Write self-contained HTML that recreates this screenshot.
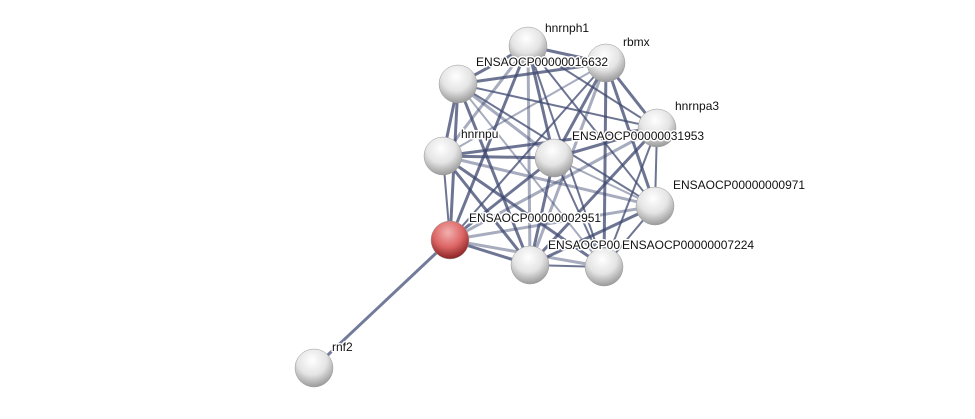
<!DOCTYPE html><html><head><style>body{margin:0;background:#fff}svg text{font-family:"Liberation Sans",sans-serif;font-size:12px;fill:#111;paint-order:stroke;stroke:#fff;stroke-width:3px;stroke-linejoin:round}</style></head><body>
<svg width="975" height="414" xmlns="http://www.w3.org/2000/svg">
<defs>
<radialGradient id="g" cx="45%" cy="30%" r="70%"><stop offset="0" stop-color="#fff"/><stop offset="0.55" stop-color="#e4e4e4"/><stop offset="1" stop-color="#9a9a9a"/></radialGradient>
<radialGradient id="r" cx="45%" cy="30%" r="70%"><stop offset="0" stop-color="#f3b0b0"/><stop offset="0.55" stop-color="#d66"/><stop offset="1" stop-color="#8a2222"/></radialGradient>
</defs>
<g id="e" stroke="#3d4870" stroke-linecap="round"></g>
<line x1="450" y1="240" x2="314" y2="368" stroke="#5a6488" stroke-width="3" opacity="0.85"/>
<g id="n"></g>
<text x="545" y="32">hnrnph1</text>
<text x="623" y="46">rbmx</text>
<text x="476" y="66">ENSAOCP00000016632</text>
<text x="675" y="110">hnrnpa3</text>
<text x="461" y="138">hnrnpu</text>
<text x="572" y="140">ENSAOCP00000031953</text>
<text x="673" y="189">ENSAOCP00000000971</text>
<text x="469" y="222">ENSAOCP00000002951</text>
<text x="548" y="249">ENSAOCP00</text>
<text x="622" y="249">ENSAOCP00000007224</text>
<text x="332" y="351">rnf2</text>
</svg>
<script>
var P=[[528,46],[606,63],[458,84],[657,128],[443,156],[554,158],[655,206],[450,240],[530,265],[604,267]];
var e=document.getElementById('e'),n=document.getElementById('n'),NS='http://www.w3.org/2000/svg';
var k=0;
for(var i=0;i<P.length;i++)for(var j=i+1;j<P.length;j++){k++;var l=document.createElementNS(NS,'line');
l.setAttribute('x1',P[i][0]);l.setAttribute('y1',P[i][1]);l.setAttribute('x2',P[j][0]);l.setAttribute('y2',P[j][1]);
l.setAttribute('stroke-width',(k%3==0)?2:3);l.setAttribute('opacity',(k%4==0)?0.45:0.75);e.appendChild(l);}
P.concat([[314,368]]).forEach(function(p,i){var c=document.createElementNS(NS,'circle');c.setAttribute('cx',p[0]);c.setAttribute('cy',p[1]);c.setAttribute('r',19);c.setAttribute('fill',i==7?'url(#r)':'url(#g)');c.setAttribute('stroke','#999');c.setAttribute('stroke-width','0.5');n.appendChild(c);});
</script>
</body></html>
